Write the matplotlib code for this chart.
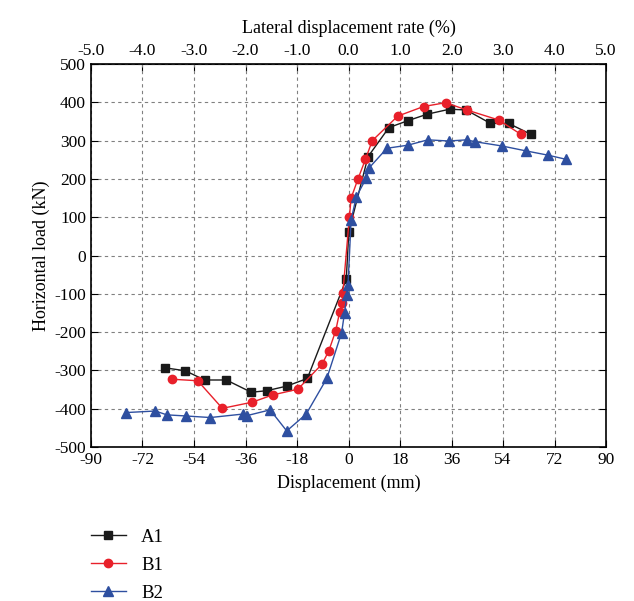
import matplotlib.pyplot as plt

plt.rcParams['font.family'] = ['Liberation Serif', 'DejaVu Serif']
plt.rcParams['axes.unicode_minus'] = False

# A1 (black squares)
a1_x = [-64.3, -57.0, -50.3, -42.7, -34.0, -28.6, -21.6, -14.4, -0.8, 0.1,
        6.8, 14.1, 20.7, 27.5, 35.3, 41.1, 49.6, 55.9, 63.6]
a1_y = [-293, -301, -325, -325, -357, -353, -341, -321, -62, 62,
        258, 334, 352, 369, 382, 380, 345, 345, 317]

# B1 (red circles)
b1_x = [-61.6, -52.7, -44.1, -33.7, -26.5, -17.7, -9.2, -6.9, -4.5, -3.1,
        -2.2, -2.0, 0.3, 0.9, 3.3, 5.9, 8.3, 17.2, 26.2, 33.9, 41.3, 52.4, 60.1]
b1_y = [-323, -327, -399, -383, -364, -349, -283, -249, -197, -147,
        -125, -99, 101, 150, 200, 251, 300, 364, 389, 399, 380, 354, 317]

# B2 (blue triangles)
b2_x = [-77.7, -67.5, -63.5, -56.7, -48.3, -37.0, -35.5, -27.4, -21.6, -14.8,
        -7.6, -2.4, -1.4, -0.6, -0.2, 0.9, 2.7, 6.2, 7.1, 13.4, 20.7, 27.7,
        35.0, 41.3, 44.3, 53.6, 62.1, 69.7, 76.1]
b2_y = [-410, -406, -416, -419, -423, -414, -418, -403, -458, -414,
        -321, -201, -149, -103, -77, 93, 153, 202, 228, 280, 288, 302,
        299, 302, 297, 286, 273, 262, 251]

x_ticks = list(range(-90, 91, 18))
y_ticks = list(range(-500, 501, 100))
top_ticks = [-5.0, -4.0, -3.0, -2.0, -1.0, 0.0, 1.0, 2.0, 3.0, 4.0, 5.0]

fig = plt.figure(figsize=(6.34, 6.01), dpi=100)
ax = fig.add_axes([0.1435, 0.2562, 0.8125, 0.6373])

ax.plot(a1_x, a1_y, color='#1a1a1a', lw=1, marker='s', ms=6, label='A1', zorder=3)
ax.plot(b1_x, b1_y, color='#e8202a', lw=1, marker='o', ms=6, label='B1', zorder=4)
ax.plot(b2_x, b2_y, color='#2e4fa0', lw=1, marker='^', ms=7, label='B2', zorder=5)

ax.set_xlim(-90, 90)
ax.set_ylim(-500, 500)
ax.set_xticks(x_ticks)
ax.set_yticks(y_ticks)
ax.grid(True, color='#808080', linestyle=(0, (3, 3)), lw=0.8)
ax.tick_params(direction='in', length=5, labelsize=12.5, right=True, top=False)
for s in ax.spines.values():
    s.set_linewidth(1.2)

ax.set_xlabel('Displacement (mm)', fontsize=13, labelpad=5)
ax.set_ylabel('Horizontal load (kN)', fontsize=13, labelpad=3)

sec = ax.secondary_xaxis('top', functions=(lambda v: v / 18.0, lambda p: p * 18.0))
sec.set_xticks(top_ticks)
sec.set_xticklabels(['%.1f' % t for t in top_ticks])
sec.tick_params(direction='in', length=5, labelsize=12.5)
sec.set_xlabel('Lateral displacement rate (%)', fontsize=13, labelpad=7)

fig.legend(loc='upper left', bbox_to_anchor=(0.128, 0.136), frameon=False,
           fontsize=13.5, handlelength=1.9, handletextpad=0.8,
           labelspacing=0.58, borderpad=0)

fig.savefig('out.png', dpi=100)
